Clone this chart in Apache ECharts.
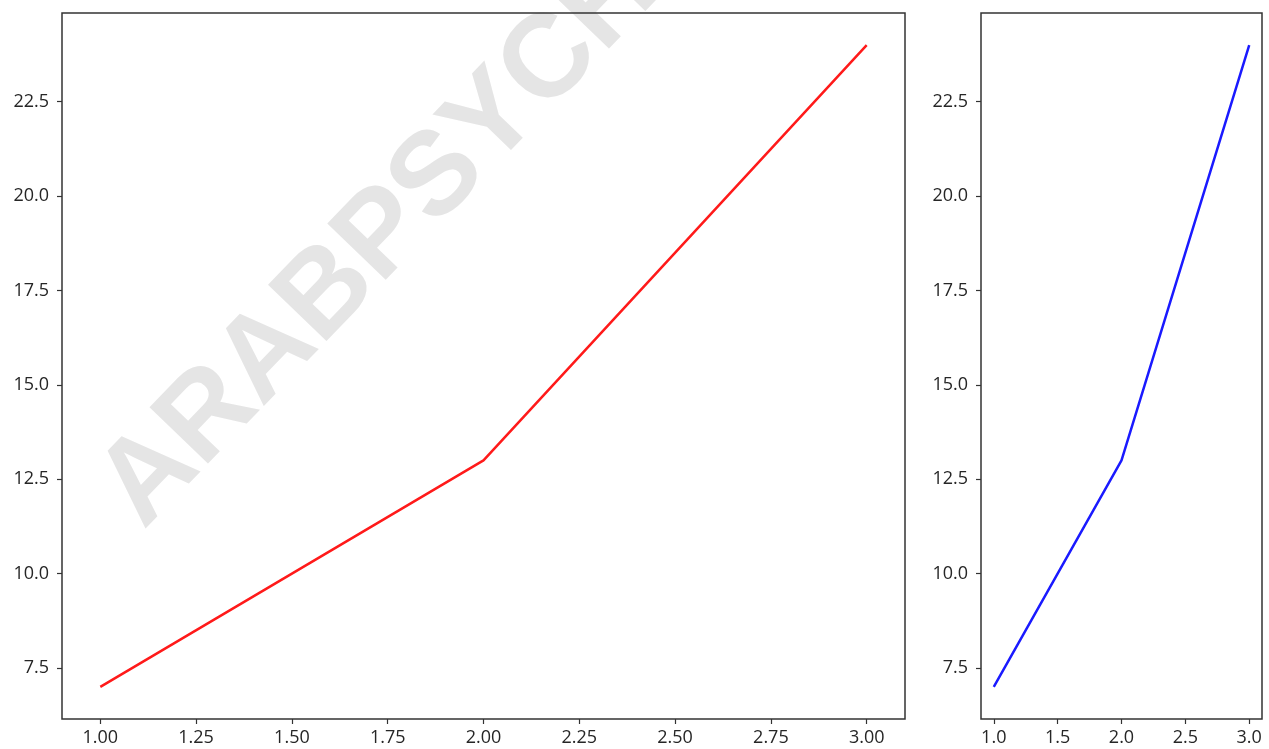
<!DOCTYPE html>
<html>
<head>
<meta charset="utf-8">
<script src="https://cdn.jsdelivr.net/npm/echarts@6/dist/echarts.min.js"></script>
<style>
  html, body { margin: 0; padding: 0; background: #fff; }
  #chart { width: 1269px; height: 749px; }
</style>
</head>
<body>
<div id="chart"></div>
<script>
// Data shared by both panels
const xValues = [1, 2, 3];
const yValues = [7, 13, 24];

// Tick positions
const leftXTicks = [1.00, 1.25, 1.50, 1.75, 2.00, 2.25, 2.50, 2.75, 3.00];
const rightXTicks = [1.0, 1.5, 2.0, 2.5, 3.0];
const yTicks = [7.5, 10.0, 12.5, 15.0, 17.5, 20.0, 22.5];

// Axis extents with 5% padding around the data
const xMin = 0.9, xMax = 3.1;
const yMin = 6.15, yMax = 24.85;

const pairs = xValues.map((x, i) => [x, yValues[i]]);

const labelFont = { fontFamily: 'Open Sans', fontSize: 18, color: '#262626' };
const frameColor = '#333333';

function xAxis(gridIndex, ticks, digits) {
  return {
    type: 'value', gridIndex, min: xMin, max: xMax,
    axisLine: { show: false },
    splitLine: { show: false },
    axisTick: { show: true, length: 5, customValues: ticks, lineStyle: { color: frameColor, width: 1.2 } },
    axisLabel: Object.assign({ customValues: ticks, margin: 10, formatter: v => v.toFixed(digits) }, labelFont)
  };
}
function yAxis(gridIndex) {
  return {
    type: 'value', gridIndex, min: yMin, max: yMax,
    axisLine: { show: false },
    splitLine: { show: false },
    axisTick: { show: true, length: 5, customValues: yTicks, lineStyle: { color: frameColor, width: 1.2 } },
    axisLabel: Object.assign({ customValues: yTicks, margin: 13, formatter: v => v.toFixed(1) }, labelFont)
  };
}

const angle = 46 * Math.PI / 180;

const chart = echarts.init(document.getElementById('chart'), null, { renderer: 'canvas' });
chart.setOption({
  animation: false,
  backgroundColor: '#ffffff',
  grid: [
    { left: 62, top: 13, width: 843, height: 706, show: true, borderColor: frameColor, borderWidth: 1.5, backgroundColor: 'transparent', z: 3 },
    { left: 981, top: 13, width: 281, height: 706, show: true, borderColor: frameColor, borderWidth: 1.5, backgroundColor: 'transparent', z: 3 }
  ],
  xAxis: [xAxis(0, leftXTicks, 2), xAxis(1, rightXTicks, 1)],
  yAxis: [yAxis(0), yAxis(1)],
  series: [
    { type: 'line', xAxisIndex: 0, yAxisIndex: 0, data: pairs, showSymbol: false, z: 5,
      lineStyle: { color: '#ff1a1a', width: 2.5 } },
    { type: 'line', xAxisIndex: 1, yAxisIndex: 1, data: pairs, showSymbol: false, z: 5,
      lineStyle: { color: '#1a1aff', width: 2.5 } }
  ],
  graphic: [
    {
      type: 'text', x: 120, y: 508, rotation: angle, z: 1, silent: true,
      style: {
        text: 'ARABPSYCHOLOGY',
        font: 'bold 118px "Liberation Sans"',
        fill: '#e5e5e5',
        align: 'left',
        verticalAlign: 'middle'
      }
    }
  ]
});
</script>
</body>
</html>
